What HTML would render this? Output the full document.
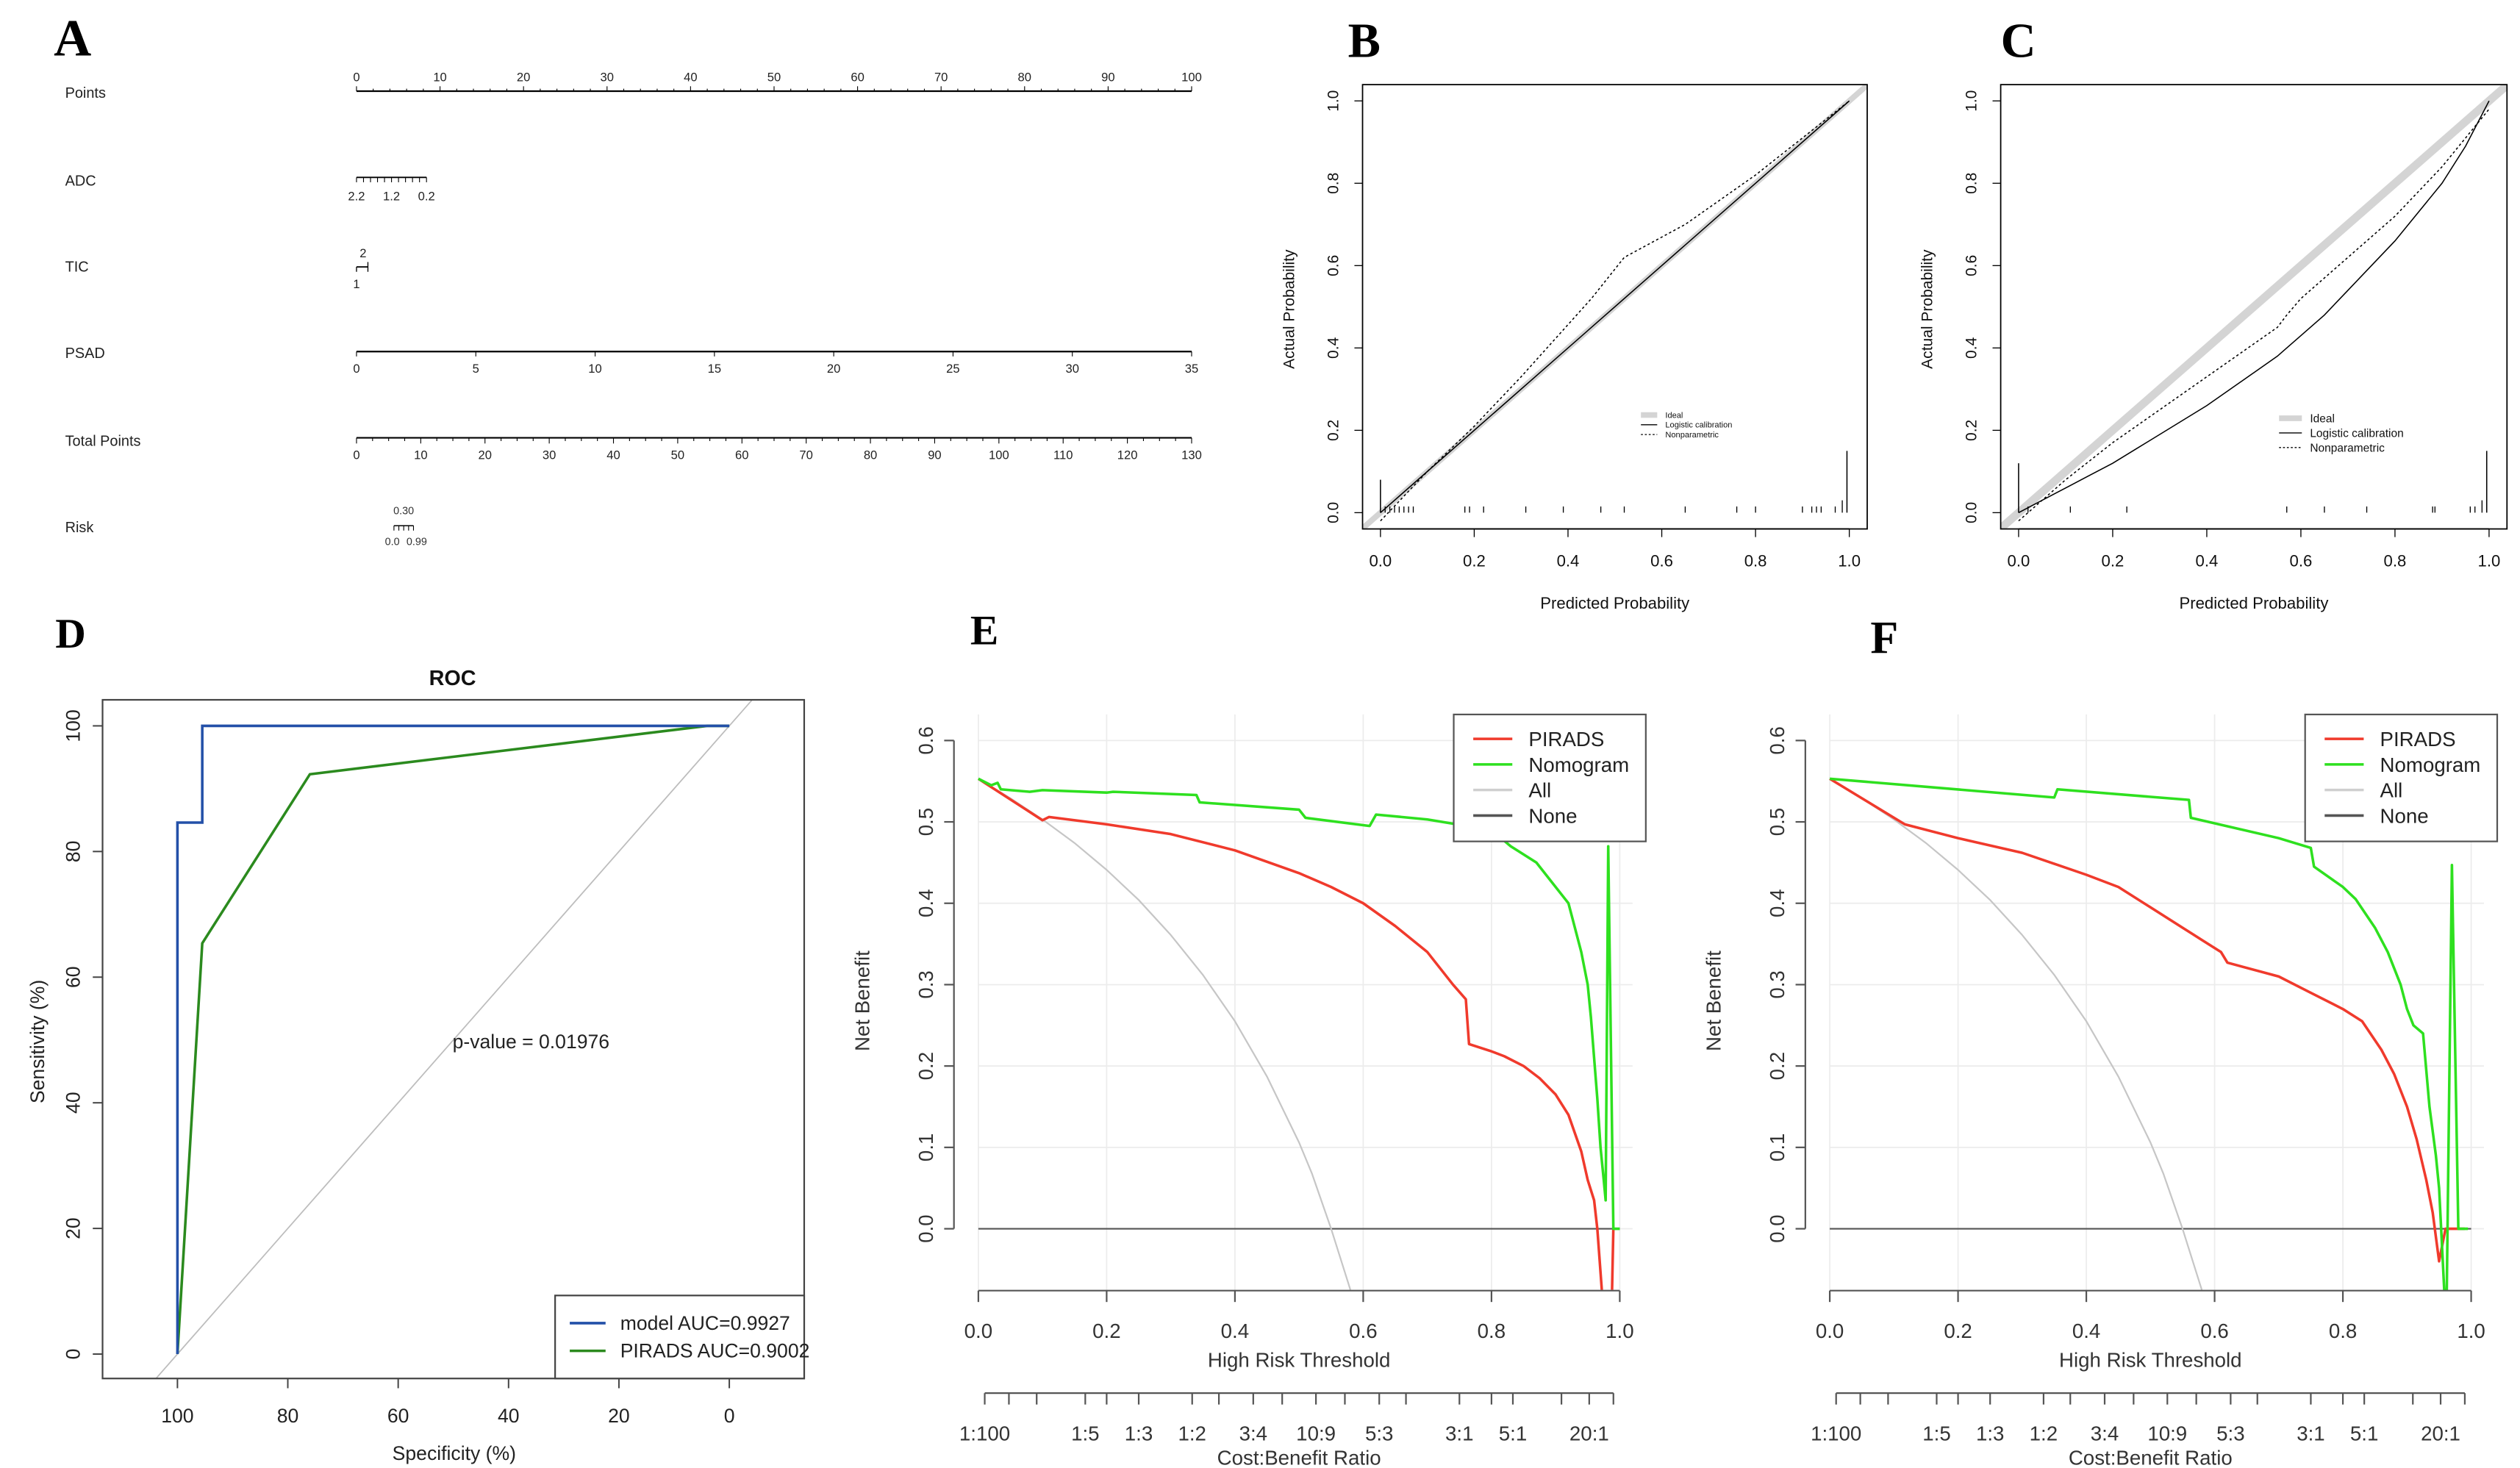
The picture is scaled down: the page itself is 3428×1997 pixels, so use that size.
<!DOCTYPE html>
<html><head><meta charset="utf-8"><style>
html,body{margin:0;padding:0;background:#fff;}
svg{display:block;}
text{font-family:"Liberation Sans",sans-serif;}
.let{font-family:"Liberation Serif",serif;font-weight:bold;}
</style></head><body>
<svg id="fig" width="3428" height="1997" viewBox="0 0 1548 902" preserveAspectRatio="none" xmlns="http://www.w3.org/2000/svg">
<rect width="1548" height="902" fill="#fff"/>
<text class="let" x="33" y="34" font-size="32">A</text>
<text class="let" x="828" y="35" font-size="30">B</text>
<text class="let" x="1229" y="35" font-size="30">C</text>
<text class="let" x="34" y="398" font-size="26">D</text>
<text class="let" x="596" y="396" font-size="26">E</text>
<text class="let" x="1149" y="401" font-size="28">F</text>
<g id="gA"></g>
<g id="gB"></g>
<g id="gC"></g>
<g id="gD"></g>
<g id="gE"></g>
<g id="gF"></g>
</svg>
<script>
// ---- Nomogram data
const nomoRows = ["Points","ADC","TIC","PSAD","Total Points","Risk"];
const pointsTicks = [0,10,20,30,40,50,60,70,80,90,100];
const adcLabels = ["2.2","1.2","0.2"];
const psadTicks = [0,5,10,15,20,25,30,35];
const totalTicks = [0,10,20,30,40,50,60,70,80,90,100,110,120,130];
// ---- Calibration data
const calB_x = [0,0.1,0.2,0.3,0.45,0.52,0.65,0.8,1.0];
const calB_np = [-0.02,0.1,0.21,0.33,0.52,0.62,0.70,0.82,1.0];
const calB_log = [0,0.1,0.2,0.3,0.45,0.52,0.65,0.8,1.0];
const calB_rug = [0.01,0.02,0.03,0.04,0.05,0.06,0.07,0.18,0.19,0.22,0.31,0.39,0.47,0.52,0.65,0.76,0.8,0.9,0.92,0.93,0.94,0.97];
const calC_x = [0,0.05,0.1,0.15,0.2,0.25,0.3,0.35,0.4,0.45,0.5,0.55,0.57,0.6,0.65,0.7,0.75,0.8,0.85,0.9,0.95,1.0];
const calC_log = [0,0.03,0.06,0.09,0.12,0.155,0.19,0.225,0.26,0.30,0.34,0.38,0.40,0.43,0.48,0.54,0.60,0.66,0.73,0.80,0.89,1.0];
const calC_np = [-0.02,0.03,0.08,0.125,0.17,0.21,0.25,0.29,0.33,0.37,0.41,0.45,0.48,0.52,0.57,0.62,0.67,0.72,0.78,0.84,0.91,0.98];
const calC_rug = [0.02,0.11,0.23,0.57,0.65,0.74,0.88,0.885,0.96,0.97];
const calTicks = [0,0.2,0.4,0.6,0.8,1.0];
// ---- ROC data
const rocModelSpec = [100,100,95.5,95.5,0];
const rocModelSens = [0,84.6,84.6,100,100];
const rocPiradsSpec = [100,95.5,76,4,0];
const rocPiradsSens = [0,65.4,92.3,100,100];
const rocTicks = [0,20,40,60,80,100];
// ---- DCA E
const eAllT = [0,0.05,0.1,0.15,0.2,0.25,0.3,0.35,0.4,0.45,0.5,0.52,0.55,0.58];
const eAllNB = [0.553,0.529,0.503,0.474,0.441,0.404,0.361,0.312,0.255,0.187,0.106,0.068,0.0,-0.075];
const eRedT = [0,0.1,0.11,0.2,0.3,0.4,0.5,0.55,0.6,0.65,0.7,0.72,0.74,0.76,0.765,0.8,0.82,0.85,0.875,0.9,0.92,0.94,0.95,0.96,0.965,0.972,null,0.988,0.99];
const eRedNB = [0.553,0.502,0.506,0.497,0.485,0.465,0.437,0.42,0.40,0.372,0.34,0.32,0.30,0.282,0.227,0.218,0.212,0.20,0.185,0.165,0.14,0.095,0.06,0.035,0.0,-0.075,null,-0.075,0.0];
const eGrnT = [0,0.02,0.03,0.035,0.08,0.1,0.2,0.21,0.34,0.345,0.5,0.51,0.61,0.62,0.7,0.8,0.83,0.84,0.87,0.885,0.9,0.91,0.92,0.925,0.93,0.94,0.95,0.955,0.96,0.965,0.97,0.975,0.978,0.982,0.99,1.0];
const eGrnNB = [0.553,0.545,0.548,0.54,0.537,0.539,0.536,0.537,0.533,0.524,0.515,0.505,0.495,0.509,0.503,0.49,0.47,0.465,0.45,0.435,0.42,0.41,0.40,0.385,0.37,0.34,0.30,0.26,0.21,0.16,0.10,0.06,0.035,0.47,0.0,0.0];
// ---- DCA F
const fAllT = [0,0.05,0.1,0.15,0.2,0.25,0.3,0.35,0.4,0.45,0.5,0.52,0.55,0.58];
const fAllNB = [0.553,0.529,0.503,0.474,0.441,0.404,0.361,0.312,0.255,0.187,0.106,0.068,0.0,-0.075];
const fRedT = [0,0.117,0.2,0.3,0.4,0.45,0.5,0.55,0.58,0.61,0.62,0.7,0.75,0.8,0.83,0.86,0.88,0.9,0.915,0.93,0.94,0.95,0.96,0.99];
const fRedNB = [0.553,0.497,0.48,0.462,0.435,0.42,0.395,0.37,0.355,0.34,0.327,0.31,0.29,0.27,0.255,0.22,0.19,0.15,0.11,0.06,0.02,-0.04,0.0,0.0];
const fGrnT = [0,0.35,0.355,0.56,0.563,0.7,0.75,0.755,0.8,0.82,0.85,0.87,0.89,0.9,0.91,0.925,0.935,0.945,0.95,0.958,0.962,0.97,0.98,0.995];
const fGrnNB = [0.553,0.53,0.54,0.527,0.505,0.48,0.468,0.445,0.42,0.405,0.37,0.34,0.30,0.27,0.25,0.24,0.15,0.09,0.05,-0.075,-0.075,0.447,0.0,0.0];
const nbTicks = [0,0.1,0.2,0.3,0.4,0.5,0.6];
const thrTicks = [0,0.2,0.4,0.6,0.8,1.0];
const cbCost = [1,1,1,1,1,1,1,3,3,9,10,4,5,2,3,4,5,10,20,100];
const cbBen = [100,20,10,5,4,3,2,5,4,10,9,3,3,1,1,1,1,1,1,1];
const cbLabels = ["1:100","","","1:5","","1:3","1:2","","3:4","","10:9","","5:3","","3:1","","5:1","","20:1",""];

const NS="http://www.w3.org/2000/svg";
function mk(parent,tag,attrs,txt){const e=document.createElementNS(NS,tag);for(const k in attrs)e.setAttribute(k,attrs[k]);if(txt!==undefined)e.textContent=txt;parent.appendChild(e);return e;}
function ln(p,x1,y1,x2,y2,st,w){return mk(p,'line',{x1,y1,x2,y2,stroke:st||'#000','stroke-width':w||0.6});}
function pathFrom(xs,ys,fx,fy){let d='',pen=false;for(let i=0;i<xs.length;i++){if(xs[i]===null){pen=false;continue;}d+=(pen?'L':'M')+fx(xs[i]).toFixed(2)+' '+fy(ys[i]).toFixed(2)+' ';pen=true;}return d;}

// ================= A: Nomogram
(function(){
const g=document.getElementById('gA');
const rowY=[57,111,164,217,271,324];
nomoRows.forEach((r,i)=>{const t=mk(g,'text',{x:40,y:rowY[i]+3,'font-size':9,fill:'#222'},r);

});
const X0=219,X1=732;
const px=v=>X0+v/100*(X1-X0);
ln(g,X0,56,X1,56,'#000',1);
for(let v=0;v<=100;v+=2){ln(g,px(v),56,px(v),v%10===0?53:54.5,'#000',0.5);}
pointsTicks.forEach(v=>mk(g,'text',{x:px(v),y:50,'font-size':7.5,'text-anchor':'middle',fill:'#222'},v));
const ax0=219,ax1=262;
ln(g,ax0,109,ax1,109,'#000',0.8);
for(let i=0;i<=10;i++){const x=ax0+i*(ax1-ax0)/10;ln(g,x,109,x,112,'#000',0.5);}
adcLabels.forEach((l,i)=>mk(g,'text',{x:ax0+i*(ax1-ax0)/2,y:123,'font-size':7.5,'text-anchor':'middle',fill:'#222'},l));
ln(g,219,164,226,164,'#000',0.8);ln(g,219,164,219,167,'#000',0.6);ln(g,226,161,226,167,'#000',0.6);
mk(g,'text',{x:223,y:158,'font-size':7.5,'text-anchor':'middle',fill:'#222'},'2');
mk(g,'text',{x:219,y:177,'font-size':7.5,'text-anchor':'middle',fill:'#222'},'1');
const sx=v=>X0+v/35*(X1-X0);
ln(g,X0,216,X1,216,'#000',1);
psadTicks.forEach(v=>{ln(g,sx(v),216,sx(v),219,'#000',0.5);mk(g,'text',{x:sx(v),y:229,'font-size':7.5,'text-anchor':'middle',fill:'#222'},v);});
const tx=v=>X0+v/130*(X1-X0);
ln(g,X0,269,X1,269,'#000',1);
for(let v=0;v<=130;v+=2.5){ln(g,tx(v),269,tx(v),v%10===0?272.5:271,'#000',0.5);}
totalTicks.forEach(v=>mk(g,'text',{x:tx(v),y:282,'font-size':7.5,'text-anchor':'middle',fill:'#222'},v));
ln(g,242,323,254,323,'#000',0.7);
[242,245,248,251,254].forEach(x=>ln(g,x,323,x,326,'#000',0.5));
mk(g,'text',{x:248,y:316,'font-size':6.5,'text-anchor':'middle',fill:'#333','font-family':'Liberation Serif'},'0.30');
mk(g,'text',{x:241,y:335,'font-size':6.5,'text-anchor':'middle',fill:'#333','font-family':'Liberation Serif'},'0.0');
mk(g,'text',{x:256,y:335,'font-size':6.5,'text-anchor':'middle',fill:'#333','font-family':'Liberation Serif'},'0.99');
})();

// ================= B/C calibration
function calPanel(id,bx0,bx1,xs,logY,npY,rug,bigRugL,bigRugR,leg){
const g=document.getElementById(id);
const x0=bx0+11,x1=bx1-11,y0=315,y1=62;
const fx=v=>x0+v*(x1-x0), fy=v=>y0-v*(y0-y1);
const clip='clip'+id;
const cp=mk(mk(g,'defs',{}),'clipPath',{id:clip});mk(cp,'rect',{x:bx0,y:52,width:bx1-bx0,height:273});
const ideal=mk(g,'line',{x1:fx(-0.05),y1:fy(-0.05),x2:fx(1.05),y2:fy(1.05),stroke:'#d4d4d4','stroke-width':id==='gC'?5:3.5,'clip-path':'url(#'+clip+')'});


const lp=mk(g,'path',{d:pathFrom(xs,logY,fx,fy),fill:'none',stroke:'#000','stroke-width':0.7});


const np=mk(g,'path',{d:pathFrom(xs,npY,fx,fy),fill:'none',stroke:'#000','stroke-width':0.7,'stroke-dasharray':'1.5,1.5','clip-path':'url(#'+clip+')'});


rug.forEach(v=>ln(g,fx(v),fy(0),fx(v),fy(0.015),'#000',0.6));
ln(g,fx(0),fy(0),fx(0),fy(bigRugL),'#000',0.7);ln(g,fx(0.995),fy(0),fx(0.995),fy(bigRugR),'#000',0.7);
ln(g,fx(0.985),fy(0),fx(0.985),fy(0.03),'#000',0.6);
mk(g,'rect',{x:bx0,y:52,width:bx1-bx0,height:273,fill:'none',stroke:'#000','stroke-width':0.8});
ln(g,fx(0),325,fx(1),325,'#000',0.8);
calTicks.forEach(v=>{ln(g,fx(v),325,fx(v),330,'#000',0.6);
const t=mk(g,'text',{x:fx(v),y:348,'font-size':10,'text-anchor':'middle',fill:'#111'},v.toFixed(1));

ln(g,bx0,fy(v),bx0-5,fy(v),'#000',0.6);
mk(g,'text',{x:0,y:0,'font-size':9.5,'text-anchor':'middle',fill:'#111',transform:`translate(${bx0-15},${fy(v)}) rotate(-90)`},v.toFixed(1));});
const yt=mk(g,'text',{x:0,y:0,'font-size':9.5,'text-anchor':'middle',fill:'#111',transform:`translate(${bx0-42},190) rotate(-90)`},'Actual Probability');

const xt=mk(g,'text',{x:(bx0+bx1)/2,y:374,'font-size':10,'text-anchor':'middle',fill:'#111'},'Predicted Probability');

const lg=mk(g,'g',{});

const [lx,ly,fs,gap]=leg;
ln(lg,lx,ly,lx+leg[4],ly,'#d4d4d4',3.5);ln(lg,lx,ly+gap,lx+leg[4],ly+gap,'#000',0.6);
mk(lg,'line',{x1:lx,y1:ly+2*gap,x2:lx+leg[4],y2:ly+2*gap,stroke:'#000','stroke-width':0.6,'stroke-dasharray':'1.2,1.2'});
['Ideal','Logistic calibration','Nonparametric'].forEach((s,i)=>mk(lg,'text',{x:lx+leg[4]+5,y:ly+i*gap+fs*0.35,'font-size':fs,fill:'#111'},s));
}
calPanel('gB',837,1147,calB_x,calB_log,calB_np,calB_rug,0.08,0.15,[1008,255,5,6,10]);
calPanel('gC',1229,1540,calC_x,calC_log,calC_np,calC_rug,0.12,0.15,[1400,257,7,9,14]);

// ================= D ROC
(function(){
const g=document.getElementById('gD');
const bx0=63,bx1=494,by0=430,by1=847;
const fx=s=>109+(100-s)/100*(448-109), fy=v=>832-v/100*(832-446);
const cp=mk(mk(g,'defs',{}),'clipPath',{id:'clipD'});mk(cp,'rect',{x:bx0,y:by0,width:bx1-bx0,height:by1-by0});
const d=mk(g,'line',{x1:fx(110),y1:fy(-10),x2:fx(-10),y2:fy(110),stroke:'#bdbdbd','stroke-width':0.8,'clip-path':'url(#clipD)'});

const pr=mk(g,'path',{d:pathFrom(rocPiradsSpec,rocPiradsSens,fx,fy),fill:'none',stroke:'#2b8a1e','stroke-width':1.6});

const mo=mk(g,'path',{d:pathFrom(rocModelSpec,rocModelSens,fx,fy),fill:'none',stroke:'#2350a8','stroke-width':1.6});

mk(g,'rect',{x:bx0,y:by0,width:bx1-bx0,height:by1-by0,fill:'none',stroke:'#444','stroke-width':1});
rocTicks.forEach(v=>{ln(g,fx(v),by1,fx(v),by1+6,'#444',0.9);
mk(g,'text',{x:fx(v),y:874,'font-size':12,'text-anchor':'middle',fill:'#222'},v);
ln(g,bx0,fy(v),bx0-6,fy(v),'#444',0.9);
mk(g,'text',{x:0,y:0,'font-size':12,'text-anchor':'middle',fill:'#222',transform:`translate(${bx0-14},${fy(v)}) rotate(-90)`},v);});
const t=mk(g,'text',{x:278,y:421,'font-size':13,'font-weight':'bold','text-anchor':'middle',fill:'#111'},'ROC');

const xt=mk(g,'text',{x:279,y:897,'font-size':12,'text-anchor':'middle',fill:'#222'},'Specificity (%)');

const yt=mk(g,'text',{x:0,y:0,'font-size':12,'text-anchor':'middle',fill:'#222',transform:'translate(27,640) rotate(-90)'},'Sensitivity (%)');

const pv=mk(g,'text',{x:278,y:644,'font-size':12,fill:'#222'},'p-value = 0.01976');

const lg=mk(g,'g',{});
mk(lg,'rect',{x:341,y:796,width:153,height:51,fill:'#fff',stroke:'#444','stroke-width':1});
ln(lg,350,813,372,813,'#2350a8',1.6);ln(lg,350,830,372,830,'#2b8a1e',1.6);
mk(lg,'text',{x:381,y:817,'font-size':12,fill:'#222'},'model AUC=0.9927');
mk(lg,'text',{x:381,y:834,'font-size':12,fill:'#222'},'PIRADS AUC=0.9002');
})();

// ================= E/F DCA
function dca(id,ox,allT,allNB,redT,redNB,grnT,grnNB){
const g=document.getElementById(id);
const fx=t=>ox+t*394, fy=v=>755-v/0.6*300;
const ymin=-0.075;
const cp=mk(mk(g,'defs',{}),'clipPath',{id:'clip'+id});mk(cp,'rect',{x:ox-5,y:438,width:410,height:fy(ymin)-438+1});
thrTicks.forEach(t=>ln(g,fx(t),439,fx(t),fy(ymin),'#ececec',0.8));
nbTicks.forEach(v=>ln(g,fx(0),fy(v),fx(1.02),fy(v),'#ececec',0.8));
const none=mk(g,'line',{x1:fx(0),y1:fy(0),x2:fx(1),y2:fy(0),stroke:'#555','stroke-width':1});

const all=mk(g,'path',{d:pathFrom(allT,allNB,fx,fy),fill:'none',stroke:'#c6c6c6','stroke-width':1,'clip-path':'url(#clip'+id+')'});

const red=mk(g,'path',{d:pathFrom(redT,redNB,fx,fy),fill:'none',stroke:'#f03a2c','stroke-width':1.6,'stroke-linejoin':'round','clip-path':'url(#clip'+id+')'});

const grn=mk(g,'path',{d:pathFrom(grnT,grnNB,fx,fy),fill:'none',stroke:'#2ee01f','stroke-width':1.6,'stroke-linejoin':'round','clip-path':'url(#clip'+id+')'});

const ax=ox-15;
ln(g,ax,fy(0),ax,fy(0.6),'#555',1);
nbTicks.forEach(v=>{ln(g,ax,fy(v),ax-6,fy(v),'#555',1);
mk(g,'text',{x:0,y:0,'font-size':12.5,'text-anchor':'middle',fill:'#333',transform:`translate(${ax-13},${fy(v)}) rotate(-90)`},v.toFixed(1));});
const yt=mk(g,'text',{x:0,y:0,'font-size':12.5,'text-anchor':'middle',fill:'#333',transform:`translate(${ox-67},615) rotate(-90)`},'Net Benefit');

ln(g,fx(0),793,fx(1),793,'#555',1);
thrTicks.forEach(t=>{ln(g,fx(t),793,fx(t),800,'#555',1);
mk(g,'text',{x:fx(t),y:822,'font-size':12.5,'text-anchor':'middle',fill:'#333'},t.toFixed(1));});
const xt=mk(g,'text',{x:fx(0.5),y:840,'font-size':12.5,'text-anchor':'middle',fill:'#333'},'High Risk Threshold');

const ct=cbCost.map((c,i)=>c/(c+cbBen[i]));
ln(g,fx(ct[0]),856,fx(ct[ct.length-1]),856,'#555',1);
ct.forEach((t,i)=>{ln(g,fx(t),856,fx(t),863,'#555',1);
if(cbLabels[i])mk(g,'text',{x:fx(t),y:885,'font-size':12.5,'text-anchor':'middle',fill:'#333'},cbLabels[i]);});
const ct2=mk(g,'text',{x:fx(0.5),y:900,'font-size':12.5,'text-anchor':'middle',fill:'#333'},'Cost:Benefit Ratio');

const lg=mk(g,'g',{});
const lx=ox+292;
mk(lg,'rect',{x:lx,y:439,width:118,height:78,fill:'#fff',stroke:'#555','stroke-width':1});
const cols=['#f03a2c','#2ee01f','#cfcfcf','#555'],names=['PIRADS','Nomogram','All','None'];
names.forEach((n,i)=>{const y=454+i*15.7;ln(lg,lx+12,y,lx+36,y,cols[i],1.6);
mk(lg,'text',{x:lx+46,y:y+4.5,'font-size':12.5,fill:'#222'},n);});
}
dca('gE',601,eAllT,eAllNB,eRedT,eRedNB,eGrnT,eGrnNB);
dca('gF',1124,fAllT,fAllNB,fRedT,fRedNB,fGrnT,fGrnNB);
</script>
</body></html>
